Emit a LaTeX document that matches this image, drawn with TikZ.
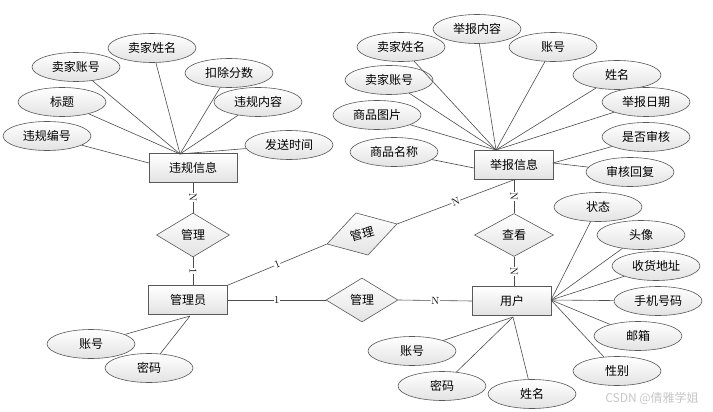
\documentclass[tikz,border=0pt]{standalone}
\usepackage{fontspec}
\newfontfamily\cjk{Noto Sans CJK SC}
\usetikzlibrary{shapes.geometric}

\begin{document}
\begin{tikzpicture}[x=1pt, y=-1pt]
% Styles
\tikzset{
    entity/.style={rectangle, draw=gray!70!black, line width=0.6pt, top color=white, bottom color=gray!22,
        minimum width=79pt, minimum height=29pt, inner sep=0pt, font=\cjk\fontsize{12}{12}\selectfont},
    attr/.style={ellipse, draw=gray!70!black, line width=0.6pt, top color=white, bottom color=gray!22,
        minimum width=88pt, minimum height=29pt, inner sep=0pt, font=\cjk\fontsize{12}{12}\selectfont},
    rel/.style={diamond, draw=gray!70!black, line width=0.6pt, top color=white, bottom color=gray!22,
        minimum width=73pt, minimum height=44pt, inner sep=0pt, font=\cjk\fontsize{12}{12}\selectfont},
    link/.style={draw=gray!60!black, line width=0.6pt},
    card/.style={fill=white, inner sep=0.6pt, sloped, font=\fontsize{10.5}{10.5}\selectfont}
}
\useasboundingbox (0, 0) rectangle (713, 412);

% Entities
\node[entity, minimum width=88pt] (WG) at (193, 168) {违规信息};
\node[entity] (JB) at (514, 165) {举报信息};
\node[entity] (GLY) at (188, 300) {管理员};
\node[entity] (YH) at (512, 301) {用户};

% Relations
\node[rel] (R1) at (193, 235) {管理};
\node[rel, rotate=16] (R2) at (362, 234) {管理};
\node[rel, minimum width=72pt] (R3) at (362, 300) {管理};
\node[rel, minimum width=79pt, minimum height=43pt] (R4) at (514, 235) {查看};

% Meeting points
\coordinate (WGT) at (180, 154);
\coordinate (WGL) at (149, 163);
\coordinate (JBT) at (496, 150);
\coordinate (JBL) at (474, 168);
\coordinate (JBR) at (553, 163);
\coordinate (GLYB) at (190, 316);
\coordinate (YHR) at (551, 300);
\coordinate (YHB) at (513, 317);

% Attributes of WG
\node[attr] (A1) at (152, 48) {卖家姓名};
\node[attr] (A2) at (76, 67) {卖家账号};
\node[attr] (A3) at (229, 73) {扣除分数};
\node[attr] (A4) at (62, 102) {标题};
\node[attr] (A5) at (258, 102) {违规内容};
\node[attr] (A6) at (47, 136) {违规编号};
\node[attr] (A7) at (289, 145) {发送时间};

% Attributes of JB
\node[attr] (B1) at (477, 29) {举报内容};
\node[attr] (B2) at (401, 47) {卖家姓名};
\node[attr] (B3) at (553, 47) {账号};
\node[attr] (B4) at (389, 80) {卖家账号};
\node[attr] (B5) at (617, 75) {姓名};
\node[attr] (B6) at (646, 102) {举报日期};
\node[attr] (B7) at (377, 115) {商品图片};
\node[attr] (B8) at (646, 137) {是否审核};
\node[attr] (B9) at (394, 152) {商品名称};
\node[attr] (B10) at (630, 172) {审核回复};

% Attributes of GLY
\node[attr] (C1) at (91, 344) {账号};
\node[attr] (C2) at (149, 368) {密码};

% Attributes of YH
\node[attr] (D1) at (598, 207) {状态};
\node[attr] (D2) at (641, 235) {头像};
\node[attr] (D3) at (656, 266) {收货地址};
\node[attr] (D4) at (658, 301) {手机号码};
\node[attr] (D5) at (638, 336) {邮箱};
\node[attr] (D6) at (617, 371) {性别};
\node[attr] (D7) at (412, 351) {账号};
\node[attr] (D8) at (442, 386) {密码};
\node[attr] (D9) at (532, 394) {姓名};

% Connections
\draw[link] (A1) -- (WGT);
\draw[link] (A2) -- (WGT);
\draw[link] (A3) -- (WGT);
\draw[link] (A4) -- (WGT);
\draw[link] (A5) -- (WGT);
\draw[link] (A6) -- (WGL);
\draw[link] (A7) -- (WGT);

\draw[link] (B1) -- (JBT);
\draw[link] (B2) -- (JBT);
\draw[link] (B3) -- (JBT);
\draw[link] (B4) -- (JBT);
\draw[link] (B5) -- (JBT);
\draw[link] (B6) -- (JBT);
\draw[link] (B7) -- (JBT);
\draw[link] (B8) -- (JBR);
\draw[link] (B9) -- (JBL);
\draw[link] (B10) -- (JBR);

\draw[link] (C1) -- (GLYB);
\draw[link] (C2) -- (GLYB);

\draw[link] (D1) -- (YHR);
\draw[link] (D2) -- (YHR);
\draw[link] (D3) -- (YHR);
\draw[link] (D4) -- (YHR);
\draw[link] (D5) -- (YHR);
\draw[link] (D6) -- (YHR);
\draw[link] (D7) -- (YHB);
\draw[link] (D8) -- (YHB);
\draw[link] (D9) -- (YHB);

\draw[link] (WG.south) -- (R1.north) node[card, midway] (K1) {N};
\draw[link] (R1.south) -- (GLY.north -| R1.south) node[card, midway] (K2) {1};
\draw[link] (GLY.north east) -- (R2.west) node[card, midway] (K3) {1};
\draw[link] (R2.east) -- (JB.south) node[card, midway] (K4) {N};
\draw[link] (GLY.east) -- (R3.west) node[card, midway] (K5) {1};
\draw[link] (R3.east) -- (YH.west) node[card, midway] (K6) {N};
\draw[link] (JB.south) -- (R4.north) node[card, midway] (K7) {N};
\draw[link] (R4.south) -- (YH.north -| R4.south) node[card, midway] (K8) {N};

% Watermark
\node[text=gray!45, font=\cjk\fontsize{12}{12}\selectfont] (WM) at (652, 398) {CSDN @倩雅学姐};
\end{tikzpicture}
\end{document}
